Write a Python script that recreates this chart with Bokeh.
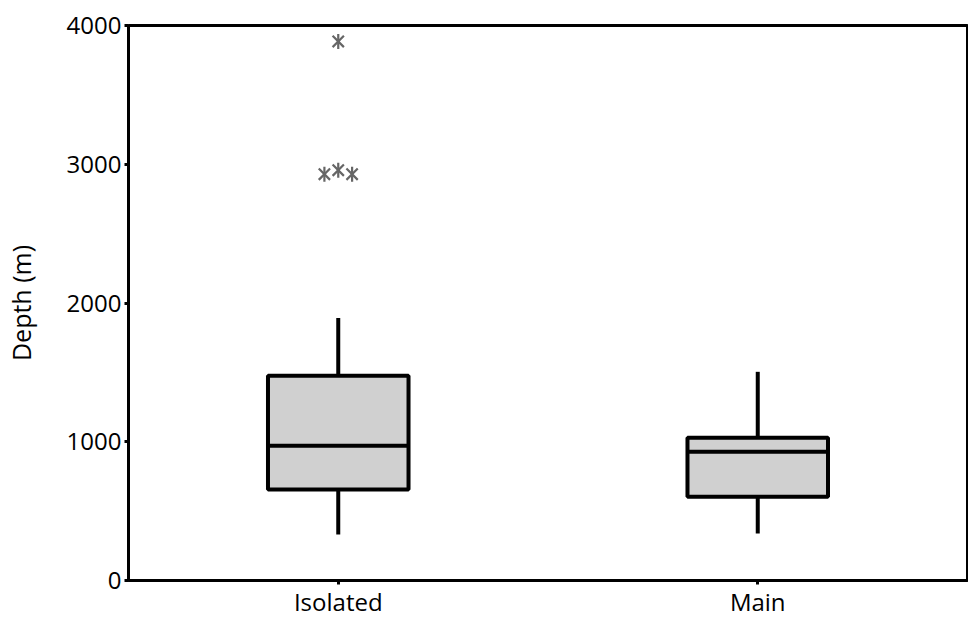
from bokeh.plotting import figure
from bokeh.models import FactorRange, ColumnDataSource, Range1d, FixedTicker
from bokeh.embed import file_html
from bokeh.resources import INLINE
import math

groups = ["Isolated", "Main"]
lower_whisker = [331, 338]
q1 = [655, 604]
median = [971, 928]
q3 = [1475, 1029]
upper_whisker = [1892, 1504]

outlier_group = ["Isolated", "Isolated", "Isolated", "Isolated"]
outlier_offset = [0.0, -0.033, 0.0, 0.033]
outlier_value = [3885, 2928, 2957, 2928]

y_ticks = [0, 1000, 2000, 3000, 4000]

FONT = "Open Sans"

p = figure(width=968, height=620,
           x_range=FactorRange(*groups, range_padding=0),
           y_range=Range1d(0, 4000), output_backend="svg", toolbar_location=None,
           min_border_left=126, min_border_right=1, min_border_top=25, min_border_bottom=39)

src = ColumnDataSource(dict(g=groups, lw=lower_whisker, q1=q1, med=median, q3=q3, uw=upper_whisker))

p.segment(x0="g", y0="q3", x1="g", y1="uw", source=src, line_color="black", line_width=4)
p.segment(x0="g", y0="lw", x1="g", y1="q1", source=src, line_color="black", line_width=4)
p.vbar(x="g", width=0.335, bottom="q1", top="q3", source=src,
       fill_color="#d0d0d0", line_color="black", line_width=4)
p.vbar(x="g", width=0.335, bottom="med", top="med", source=src,
       fill_alpha=0, line_color="black", line_width=4)

ox = [(g, o) for g, o in zip(outlier_group, outlier_offset)]
p.scatter(x=ox, y=outlier_value, marker="x", size=16,
          line_color="#666666", line_width=2.2)
p.scatter(x=ox, y=outlier_value, marker="dash", size=15, angle=math.pi / 2,
          line_color="#666666", line_width=2.2)

p.xgrid.visible = False
p.ygrid.visible = False
p.outline_line_color = "black"
p.outline_line_width = 3
p.outline_line_alpha = 1

p.yaxis.ticker = FixedTicker(ticks=y_ticks)
p.yaxis.minor_tick_line_color = None
p.yaxis.axis_label = "Depth (m)"
for ax in (p.xaxis[0], p.yaxis[0]):
    ax.axis_line_width = 3
    ax.axis_line_color = "black"
    ax.major_tick_line_width = 3
    ax.major_tick_line_color = "black"
    ax.major_tick_out = 4
    ax.major_tick_in = 0
    ax.major_label_text_font = FONT
    ax.major_label_text_font_size = "24px"
    ax.major_label_text_color = "black"
    ax.axis_label_text_font = FONT
    ax.axis_label_text_font_size = "25px"
    ax.axis_label_text_font_style = "normal"
    ax.axis_label_text_color = "black"
p.yaxis.major_label_standoff = 3
p.yaxis.axis_label_standoff = 26
p.xaxis.major_label_standoff = 0

open("out.html", "w").write(file_html(p, INLINE))
